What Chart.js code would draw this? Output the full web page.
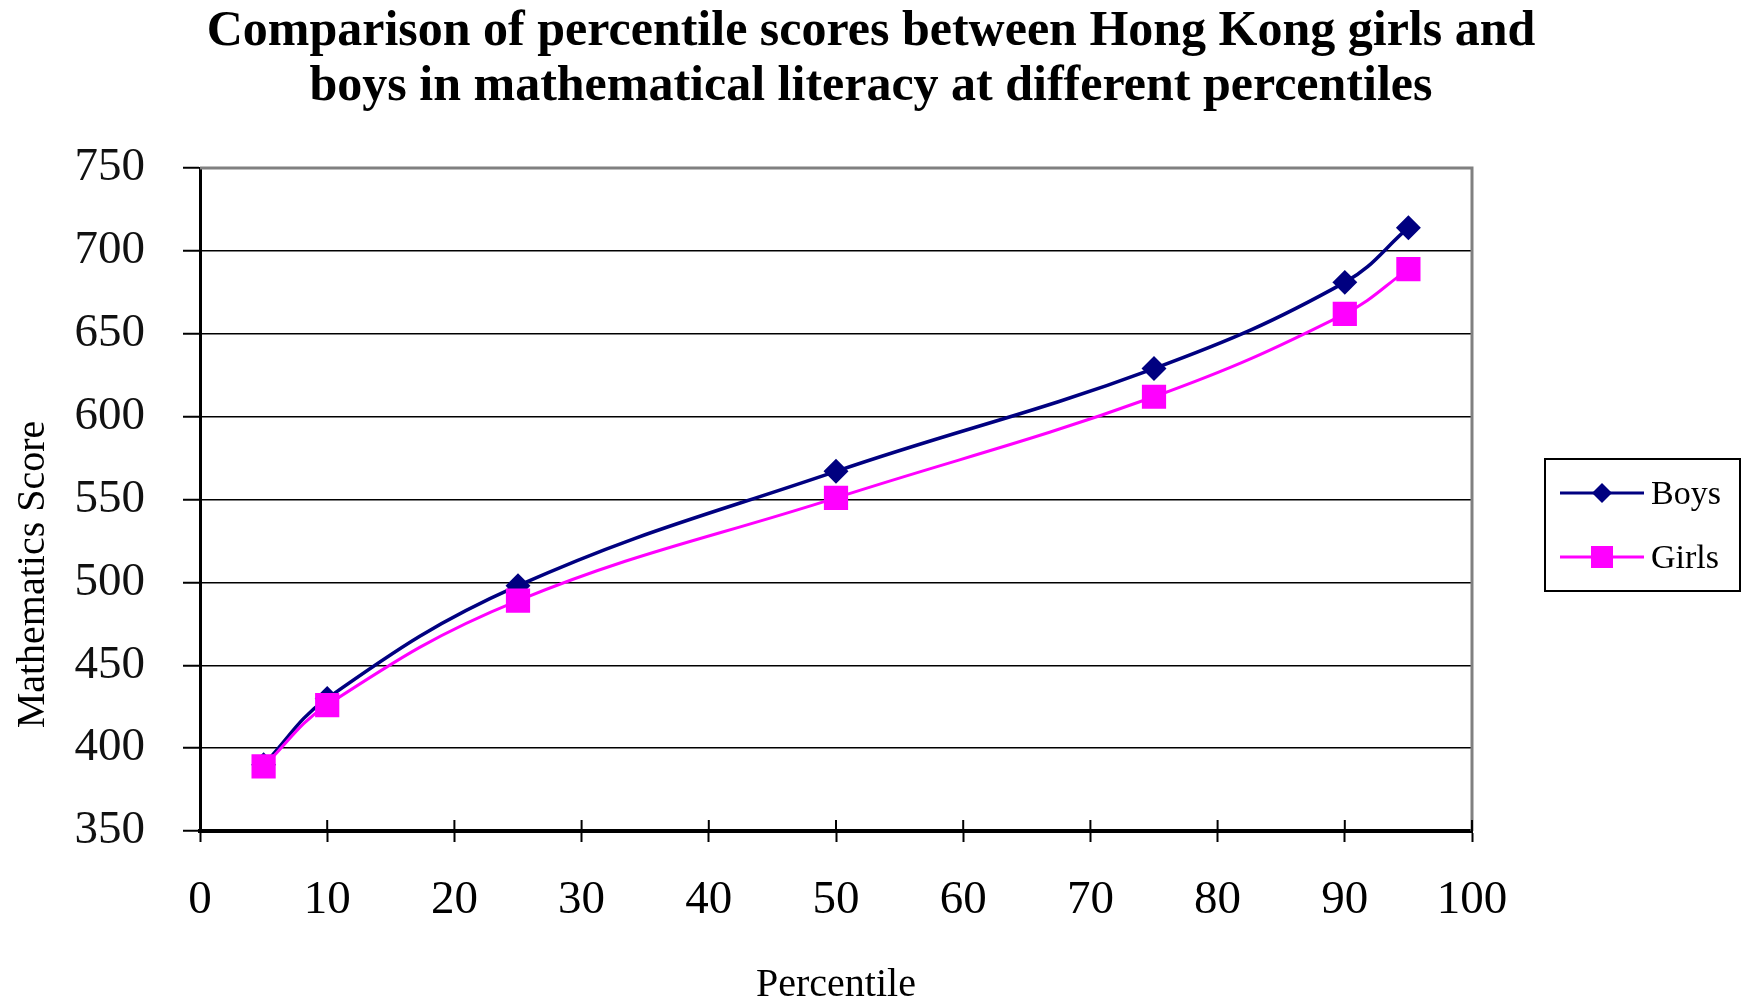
<!DOCTYPE html>
<html>
<head>
<meta charset="utf-8">
<title>Percentile scores - Hong Kong girls and boys</title>
<script src="https://cdn.jsdelivr.net/npm/chart.js@4/dist/chart.umd.min.js"></script>
<style>
  html, body { margin: 0; padding: 0; background: #fff; }
  #wrap { width: 1742px; height: 1001px; }
</style>
</head>
<body>
<div id="wrap"><canvas id="myChart" width="1742" height="1001"></canvas></div>
<script>
// percentiles along the x axis
const percentiles = [5, 10, 25, 50, 75, 90, 95];
// scores
const boysScores = [390, 430, 498, 567, 629, 681, 714];
const girlsScores = [389, 426, 489, 551, 612, 662, 689];

const seriesNames = ["Boys", "Girls"];
const titleLines = [
  "Comparison of percentile scores between Hong Kong girls and",
  "boys in mathematical literacy at different percentiles"
];
const xTitle = "Percentile";
const yTitle = "Mathematics Score";

const serif = "'Liberation Serif', 'Times New Roman', serif";

// extra bits Excel draws that chart.js does not: frame, upper ticks, legend box, y title
const extras = {
  id: "extras",
  beforeDatasetsDraw(chart) {
    const { ctx, chartArea: a, scales } = chart;
    ctx.save();
    ctx.strokeStyle = "#808080";
    ctx.lineWidth = 3;
    ctx.beginPath();
    ctx.moveTo(a.left, a.top);
    ctx.lineTo(a.right, a.top);
    ctx.lineTo(a.right, a.bottom);
    ctx.stroke();

    ctx.strokeStyle = "#000";
    ctx.lineWidth = 2;
    scales.x.ticks.forEach((t) => {
      const px = scales.x.getPixelForValue(t.value);
      ctx.beginPath();
      ctx.moveTo(px, a.bottom);
      ctx.lineTo(px, a.bottom - 11);
      ctx.stroke();
    });
    ctx.restore();
  },
  afterDraw(chart) {
    const { ctx, chartArea: a } = chart;
    ctx.save();
    // y axis title
    ctx.translate(33, (a.top + a.bottom) / 2 + 75);
    ctx.rotate(-Math.PI / 2);
    ctx.fillStyle = "#000";
    ctx.font = "40px " + serif;
    ctx.textAlign = "center";
    ctx.textBaseline = "middle";
    ctx.fillText(yTitle, 0, 0);
    ctx.restore();

    // legend
    const bx = a.right + 73, by = 459, bw = 195, bh = 132;
    ctx.save();
    ctx.strokeStyle = "#000";
    ctx.lineWidth = 2;
    ctx.strokeRect(bx, by, bw, bh);
    ctx.font = "34px " + serif;
    ctx.textBaseline = "middle";
    chart.data.datasets.forEach((ds, i) => {
      const ly = by + 34 + i * 64;
      ctx.strokeStyle = ds.borderColor;
      ctx.lineWidth = 3;
      ctx.beginPath();
      ctx.moveTo(bx + 15, ly);
      ctx.lineTo(bx + 99, ly);
      ctx.stroke();
      ctx.fillStyle = ds.backgroundColor;
      const cx = bx + 57;
      ctx.beginPath();
      if (ds.pointStyle === "rectRot") {
        ctx.moveTo(cx, ly - 10);
        ctx.lineTo(cx + 10, ly);
        ctx.lineTo(cx, ly + 10);
        ctx.lineTo(cx - 10, ly);
        ctx.closePath();
      } else {
        ctx.rect(cx - 11, ly - 11, 22, 22);
      }
      ctx.fill();
      ctx.fillStyle = "#000";
      ctx.fillText(ds.label, bx + 106, ly + 2);
    });
    ctx.restore();
  }
};

const data = {
  datasets: [
    {
      label: seriesNames[0],
      data: percentiles.map((p, i) => ({ x: p, y: boysScores[i] })),
      borderColor: "#000080",
      backgroundColor: "#000080",
      borderWidth: 3.5,
      pointStyle: "rectRot",
      pointRadius: 10,
      tension: 0.4,
      order: 1
    },
    {
      label: seriesNames[1],
      data: percentiles.map((p, i) => ({ x: p, y: girlsScores[i] })),
      borderColor: "#FF00FF",
      backgroundColor: "#FF00FF",
      borderWidth: 3,
      pointStyle: "rect",
      pointRadius: 15,
      tension: 0.4,
      order: 0
    }
  ]
};

const config = {
  type: "line",
  data: data,
  plugins: [extras],
  options: {
    responsive: false,
    animation: false,
    devicePixelRatio: 1,
    layout: { padding: 0 },
    plugins: {
      legend: { display: false },
      tooltip: { enabled: false },
      title: {
        display: true,
        text: titleLines,
        color: "#000",
        font: { family: serif, size: 50, weight: "bold", lineHeight: 1.1 },
        padding: { top: 5, bottom: 53 }
      }
    },
    scales: {
      x: {
        type: "linear",
        min: 0,
        max: 100,
        afterFit: (s) => { s.height = 170; },
        ticks: { stepSize: 10, color: "#000", padding: 30, font: { family: serif, size: 47 } },
        grid: { drawOnChartArea: false, drawTicks: true, tickLength: 11, tickWidth: 2, tickColor: "#000" },
        border: { display: true, color: "#000", width: 4 },
        title: { display: true, text: xTitle, color: "#000", font: { family: serif, size: 40, lineHeight: 1 }, padding: { top: 0, bottom: -4 } }
      },
      y: {
        min: 350,
        max: 750,
        afterFit: (s) => { s.width = 200; },
        ticks: { stepSize: 50, color: "#111", padding: 38, font: { family: serif, size: 47 } },
        grid: { color: "#000", lineWidth: 1.5, tickLength: 17, tickColor: "#000", tickWidth: 2 },
        border: { display: true, color: "#000", width: 3 }
      },
      // empty right-hand strip that holds the legend
      side: {
        type: "linear",
        position: "right",
        display: true,
        afterFit: (s) => { s.width = 270; },
        ticks: { display: false },
        grid: { display: false, drawOnChartArea: false },
        border: { display: false }
      }
    }
  }
};

const myChart = new Chart(document.getElementById("myChart"), config);
</script>
</body>
</html>
